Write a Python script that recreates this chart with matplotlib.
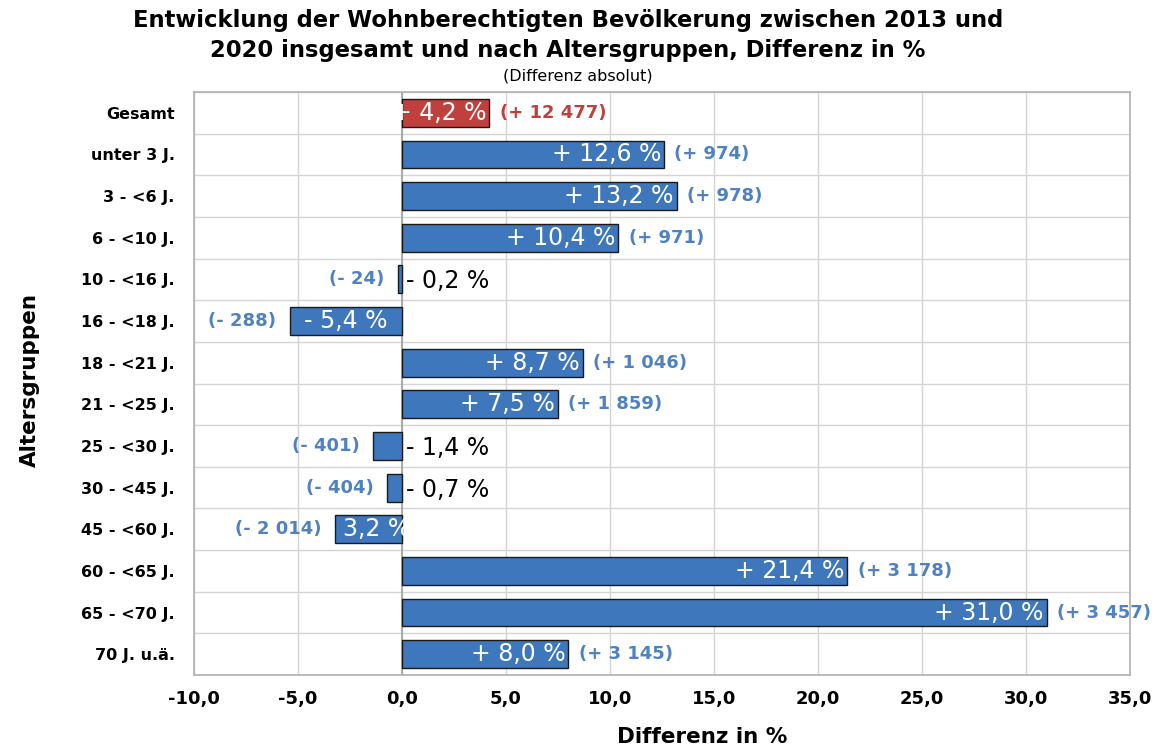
import matplotlib
matplotlib.use("Agg")
import matplotlib.pyplot as plt
import numpy as np

categories = ["Gesamt", "unter 3 J.", "3 - <6 J.", "6 - <10 J.", "10 - <16 J.", "16 - <18 J.",
              "18 - <21 J.", "21 - <25 J.", "25 - <30 J.", "30 - <45 J.", "45 - <60 J.",
              "60 - <65 J.", "65 - <70 J.", "70 J. u.ä."]
pct = [4.2, 12.6, 13.2, 10.4, -0.2, -5.4, 8.7, 7.5, -1.4, -0.7, -3.2, 21.4, 31.0, 8.0]
absolute = ["+ 12 477", "+ 974", "+ 978", "+ 971", "- 24", "- 288", "+ 1 046", "+ 1 859",
            "- 401", "- 404", "- 2 014", "+ 3 178", "+ 3 457", "+ 3 145"]
xticks = [-10, -5, 0, 5, 10, 15, 20, 25, 30, 35]

BLUE = "#3f77bd"
RED = "#c0403e"
LBLUE = "#4f82c2"

def fmt(v):
    s = f"{abs(v):.1f}".replace(".", ",")
    return ("+ " if v >= 0 else "- ") + s + " %"

fig = plt.figure(figsize=(11.63, 7.47), dpi=100)
ax = fig.add_axes([194/1163, 1-675/747, (1130-194)/1163, (675-92)/747])

y = np.arange(len(categories))
colors = [RED] + [BLUE] * (len(categories) - 1)
ax.barh(y, pct, height=0.67, color=colors, edgecolor="#1a1a1a", linewidth=1.0, zorder=3)

ax.set_xlim(-10, 35)
ax.set_ylim(len(categories) - 0.5, -0.5)
ax.set_xticks(xticks)
ax.set_xticklabels([f"{t:.1f}".replace(".", ",") for t in xticks], fontsize=13, fontweight="bold")
ax.set_yticks(y)
ax.set_yticklabels(categories, fontsize=11.5, fontweight="bold")
ax.set_yticks(np.arange(-0.5, len(categories), 1), minor=True)
ax.tick_params(axis="both", which="both", length=0)
ax.tick_params(axis="y", pad=14)
ax.tick_params(axis="x", pad=11)
ax.grid(True, axis="x", which="major", color="#d4d4d4", linewidth=1, zorder=0)
ax.grid(True, axis="y", which="minor", color="#d4d4d4", linewidth=1, zorder=0)
ax.axvline(0, color="#a0a0a0", linewidth=1.2, zorder=2)
for s in ax.spines.values():
    s.set_color("#b0b0b0")
    s.set_linewidth(1.2)

for i, (v, a) in enumerate(zip(pct, absolute)):
    acol = RED if i == 0 else LBLUE
    if v > 0:
        ax.text(v - 0.15, i, fmt(v), ha="right", va="center", color="white", fontsize=17, zorder=4)
        ax.text(v + 0.5, i, f"({a})", ha="left", va="center", color=acol, fontsize=13,
                fontweight="bold", zorder=4)
    else:
        if v < -2:
            ax.text(v / 2, i, fmt(v), ha="center", va="center", color="white", fontsize=17, zorder=4)
        else:
            ax.text(0.2, i + 0.05, fmt(v), ha="left", va="center", color="black", fontsize=17, zorder=4)
        ax.text(v - 0.65, i, f"({a})", ha="right", va="center", color=acol, fontsize=13,
                fontweight="bold", zorder=4)

fig.text(568/1163, 1-21/747, "Entwicklung der Wohnberechtigten Bevölkerung zwischen 2013 und",
         ha="center", va="center", fontsize=16.3, fontweight="bold")
fig.text(568/1163, 1-50/747, "2020 insgesamt und nach Altersgruppen, Differenz in %",
         ha="center", va="center", fontsize=16.3, fontweight="bold")
fig.text(578/1163, 1-76/747, "(Differenz absolut)", ha="center", va="center", fontsize=11.5)
fig.text(702/1163, 1-737/747, "Differenz in %", ha="center", va="center", fontsize=15.5, fontweight="bold")
fig.text(30/1163, 1-380/747, "Altersgruppen", ha="center", va="center", rotation=90,
         fontsize=15.5, fontweight="bold")

fig.savefig("out.png", dpi=100, facecolor="white")
